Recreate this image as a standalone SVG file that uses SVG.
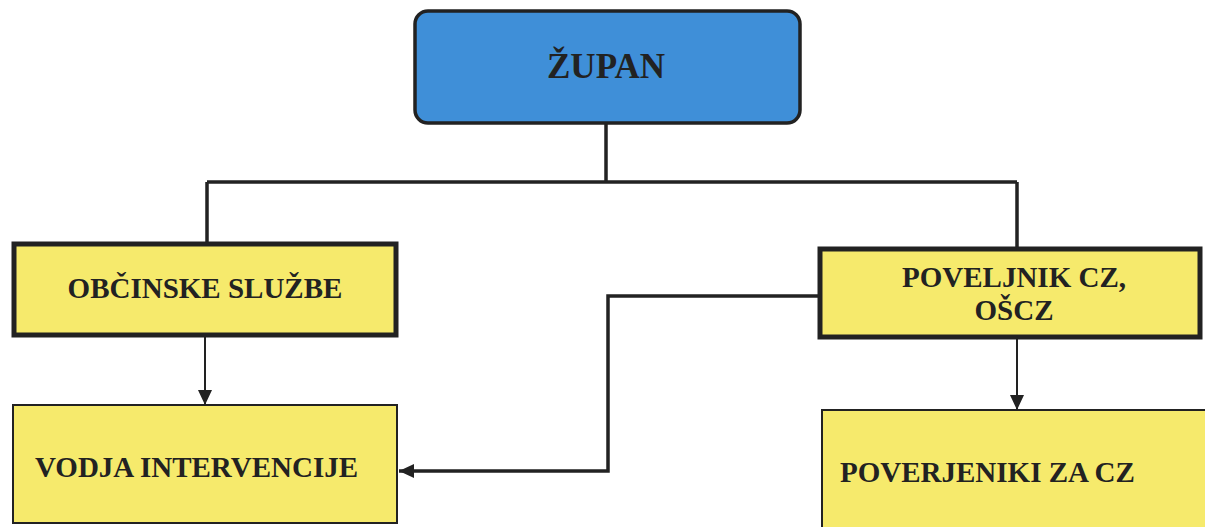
<svg xmlns="http://www.w3.org/2000/svg" width="1205" height="527" viewBox="0 0 1205 527">
<defs>
<style>
.lbl{font-family:"Liberation Serif","Times New Roman",serif;font-weight:bold;font-size:29px;fill:#222;}
.yel{fill:#f6ea6c;stroke:#222;}
.thick{stroke-width:5;}
.thin{stroke-width:2;}
.con{fill:none;stroke:#222;}
</style>
<marker id="ah" markerUnits="userSpaceOnUse" markerWidth="16" markerHeight="14" refX="15" refY="7" orient="auto">
<path d="M0,0 L15,7 L0,14 z" fill="#222"/>
</marker>
</defs>
<rect width="1205" height="527" fill="#ffffff"/>
<g id="connectors">
<path class="con" stroke-width="3.5" d="M606,123 V182 M207,182 H1017 M207,182 V242 M1017,182 V247"/>
<line class="con" stroke-width="2" x1="205" y1="337" x2="205" y2="405" marker-end="url(#ah)"/>
<line class="con" stroke-width="2" x1="1017" y1="339" x2="1017" y2="410" marker-end="url(#ah)"/>
<path class="con" stroke-width="3.5" d="M818,296 H608 V471 H399" marker-end="url(#ah)"/>
</g>
<g id="zupan">
<rect x="415" y="11" width="385" height="112" rx="13" fill="#3f8fd8" stroke="#222" stroke-width="3.5"/>
<text class="lbl" x="606" y="78" text-anchor="middle" style="font-size:35px">ŽUPAN</text>
</g>
<g id="obcinske">
<rect class="yel thick" x="14" y="244" width="382" height="91"/>
<text class="lbl" x="205" y="298" text-anchor="middle">OBČINSKE SLUŽBE</text>
</g>
<g id="poveljnik">
<rect class="yel thick" x="820" y="249" width="380" height="88"/>
<text class="lbl" x="1014" y="287" text-anchor="middle">POVELJNIK CZ,</text>
<text class="lbl" x="1014" y="320" text-anchor="middle">OŠCZ</text>
</g>
<g id="vodja">
<rect class="yel thin" x="13" y="405" width="384" height="118"/>
<text class="lbl" x="35" y="477">VODJA INTERVENCIJE</text>
</g>
<g id="poverjeniki">
<rect class="yel thin" x="822" y="410" width="400" height="130"/>
<text class="lbl" x="840" y="482">POVERJENIKI ZA CZ</text>
</g>
</svg>
